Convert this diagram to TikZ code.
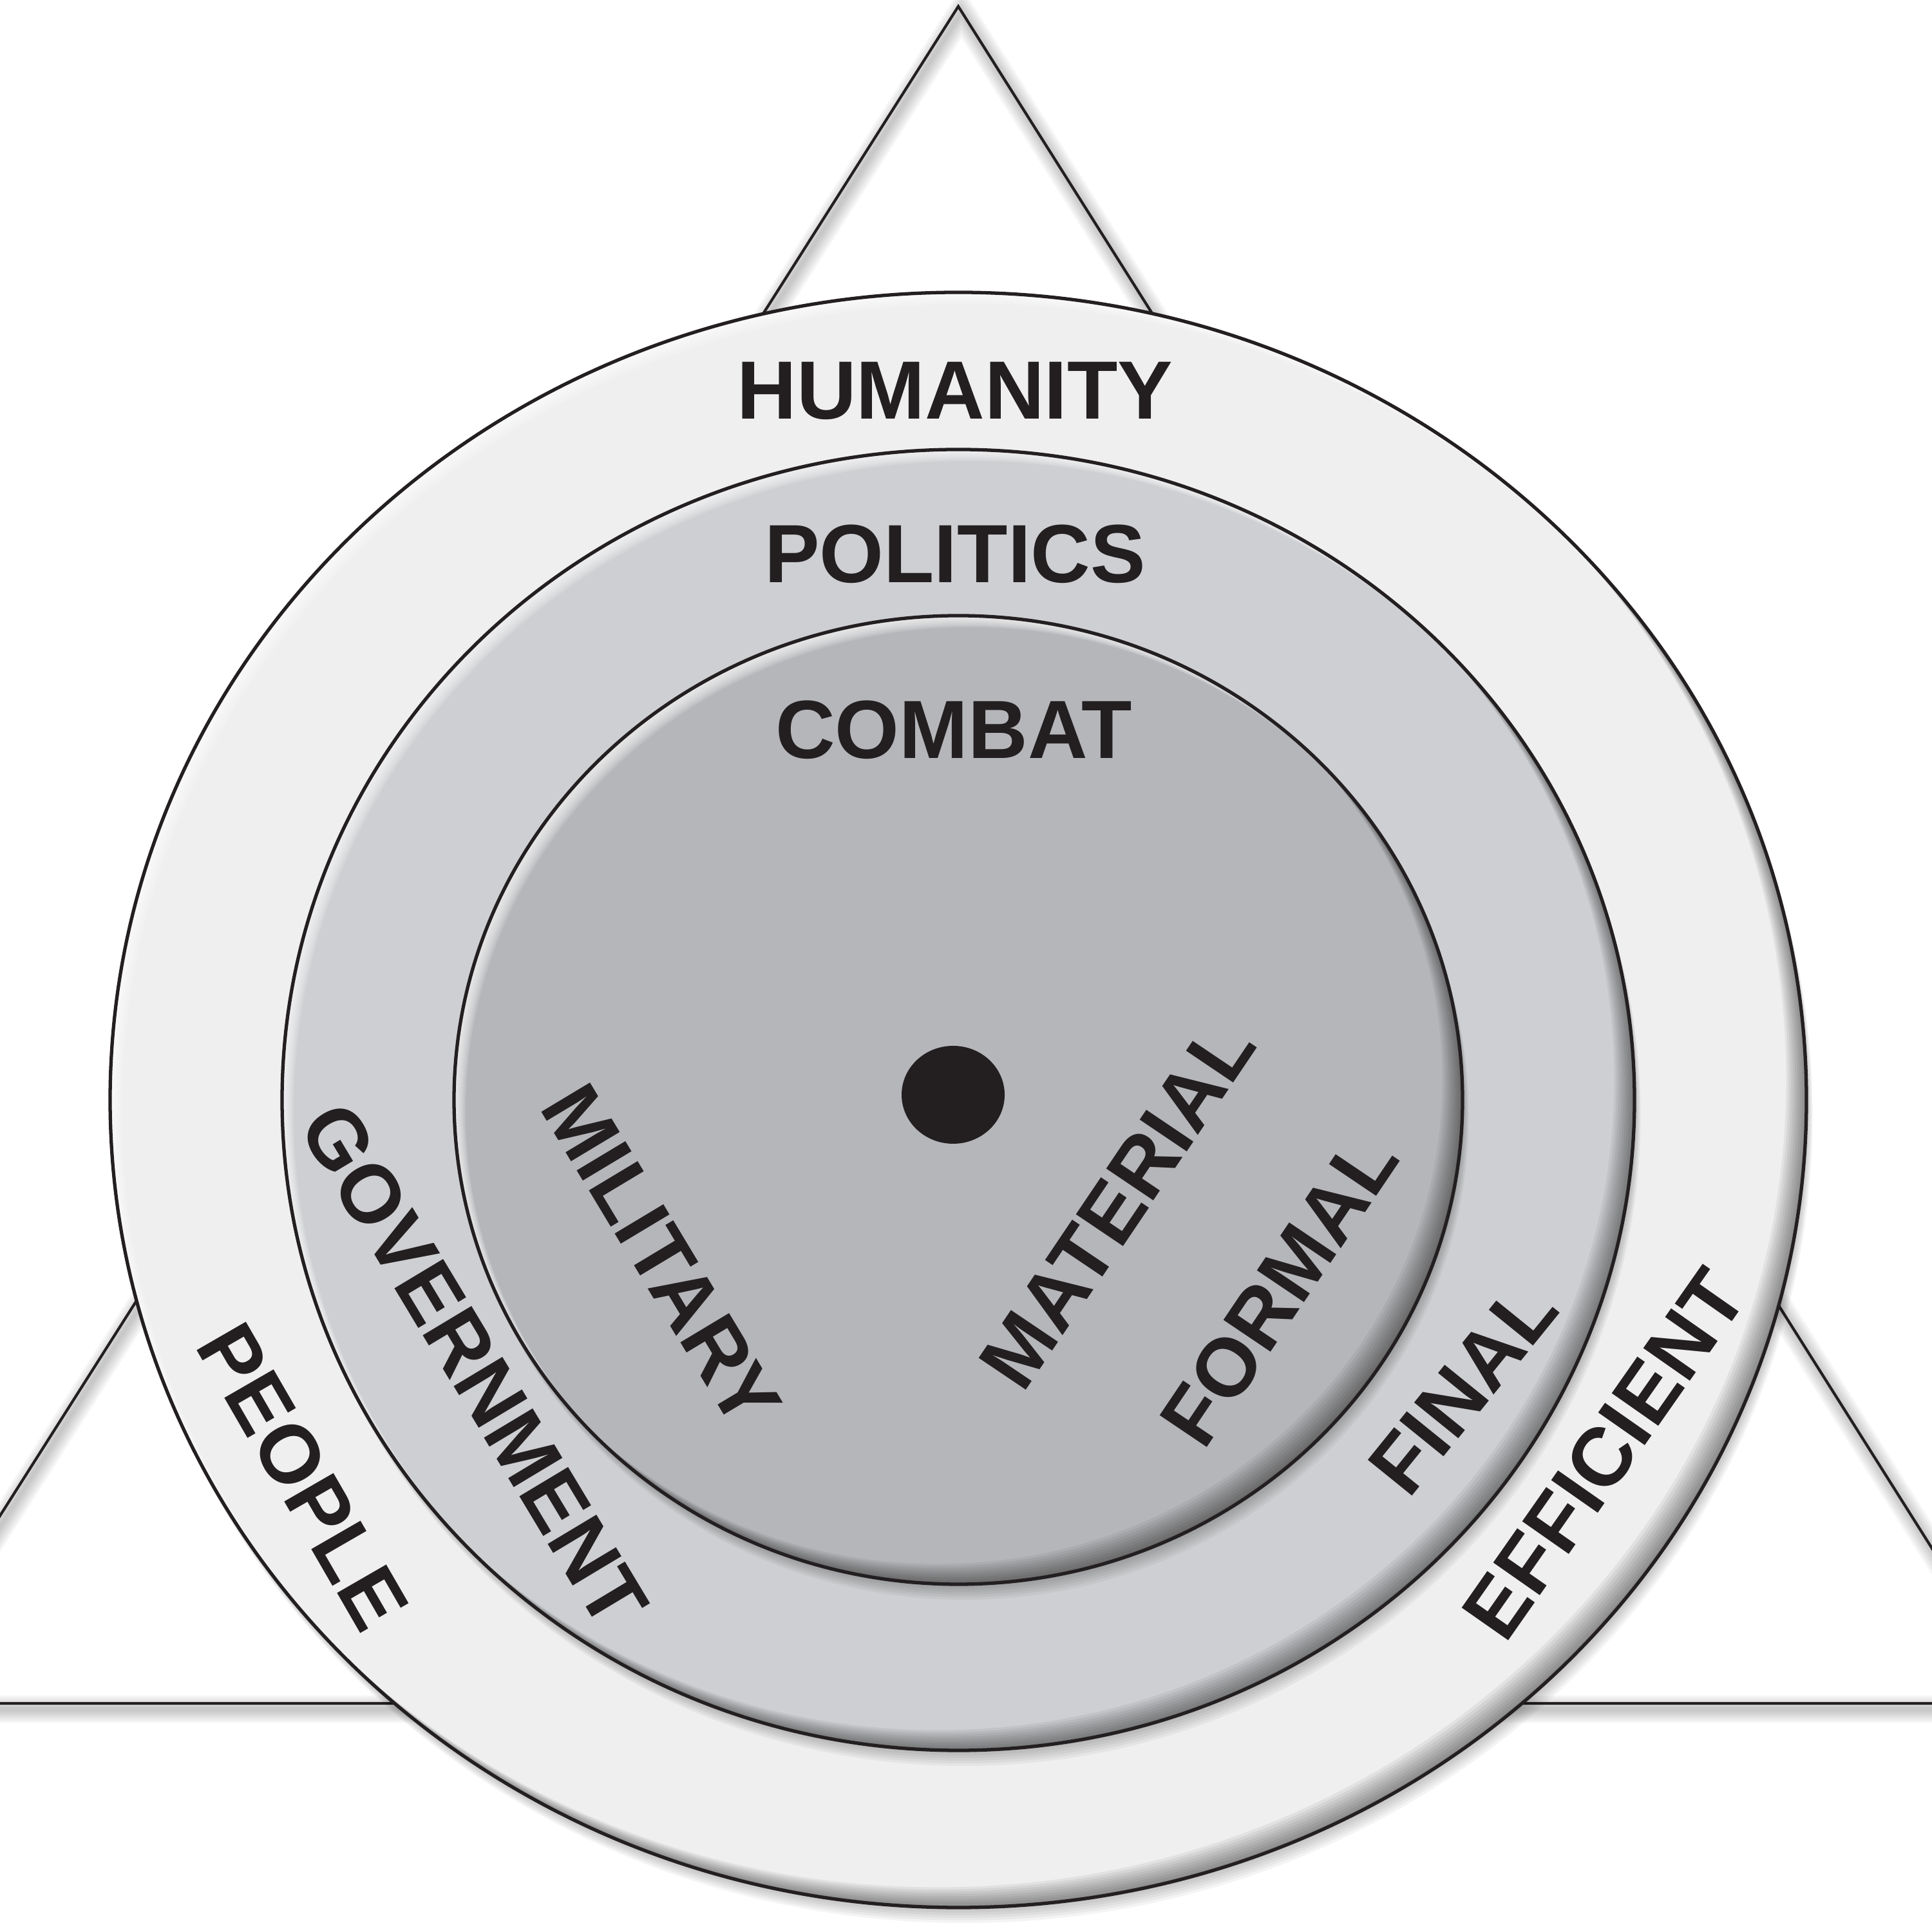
\documentclass[tikz,border=0pt]{standalone}
\usepackage{fontspec}
\setmainfont{Liberation Sans}
\usepackage{tikz}
\definecolor{inkblack}{RGB}{35,31,32}
\definecolor{ringout}{RGB}{239,239,240}
\definecolor{ringmid}{RGB}{206,207,210}
\definecolor{ringin}{RGB}{181,182,186}
\tikzset{
    lbl/.style={font=\bfseries\fontsize{36.5}{40}\selectfont, text=inkblack, inner sep=0pt},
    rim/.style={draw=inkblack, line width=1.5pt},
    triline/.style={draw=inkblack, line width=1.2pt, line join=miter}
}

\begin{document}
\begin{tikzpicture}
    \useasboundingbox (0,0) rectangle (30,30);
    \clip (0,0) rectangle (30,30);
    \coordinate (c) at (14.88,12.92);
    \coordinate (apex) at (14.88,29.90);
    \coordinate (bl) at (-1.85,3.55);
    \coordinate (br) at (31.52,3.55);

    % triangle and its soft shadow
    \foreach \w in {2,4,...,12}
        \draw[black, opacity=0.04, line width=\w pt, transform canvas={shift={(0.05,-0.09)}}] (apex) -- (bl) -- (br) -- cycle;
    \draw[triline] (apex) -- (bl) -- (br) -- cycle;

    % the three discs
    \foreach \rx/\ry/\col in {13.17/12.54/ringout, 10.50/10.10/ringmid, 7.83/7.52/ringin}{
        \foreach \s in {0.04,0.08,...,0.28}
            \fill[black, opacity=0.045] (c) ++(0.4*\s,-\s) ellipse [x radius=\rx, y radius=\ry];
        \fill[\col] (c) ellipse [x radius=\rx, y radius=\ry];
        \begin{scope}
            \clip (c) ellipse [x radius=\rx, y radius=\ry];
            \foreach \d in {0.035,0.07,...,0.35}
                \fill[black, opacity=0.055, even odd rule] (c) ellipse [x radius=\rx+1, y radius=\ry+1] (c) ++(-\d,\d) ellipse [x radius=\rx, y radius=\ry];
            \foreach \d in {0.02,0.04,...,0.18}
                \fill[white, opacity=0.13, even odd rule] (c) ellipse [x radius=\rx+1, y radius=\ry+1] (c) ++(\d,-\d) ellipse [x radius=\rx, y radius=\ry];
        \end{scope}
        \draw[rim] (c) ellipse [x radius=\rx, y radius=\ry];
    }
    \fill[inkblack] (14.80,13.00) ellipse [x radius=0.8, y radius=0.76];

    % labels
    \node[lbl] (humanity) at (14.83,23.93) {HUMANITY};
    \node[lbl] (politics) at (14.83,21.40) {POLITICS};
    \node[lbl] (combat) at (14.81,18.67) {COMBAT};
    \node[lbl, rotate=-60] (people) at (4.70,7.07) {PEOPLE};
    \node[lbl, rotate=-59] (government) at (7.36,8.80) {GOVERNMENT};
    \node[lbl, rotate=-59] (military) at (10.27,10.50) {MILITARY};
    \node[lbl, rotate=56] (material) at (17.35,11.30) {MATERIAL};
    \node[lbl, rotate=56] (formal) at (19.86,9.98) {FORMAL};
    \node[lbl, rotate=51] (final) at (22.72,8.45) {FINAL};
    \node[lbl, rotate=55] (efficient) at (24.91,7.42) {EFFICIENT};
\end{tikzpicture}
\end{document}
